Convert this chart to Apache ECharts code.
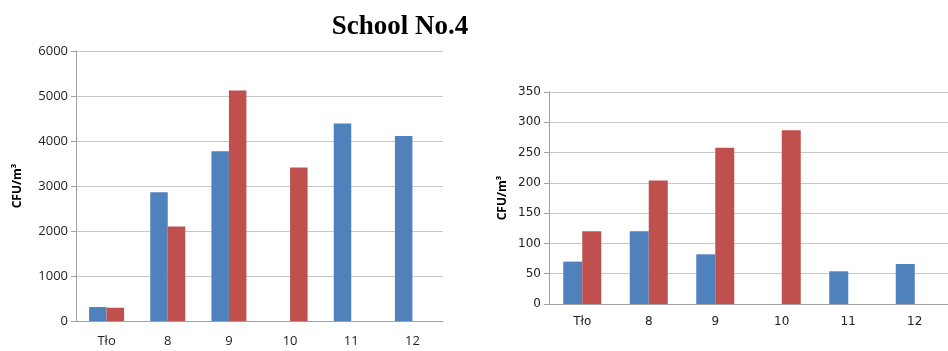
<!DOCTYPE html>
<html><head><meta charset="utf-8">
<script src="https://cdn.jsdelivr.net/npm/echarts@6/dist/echarts.min.js"></script>
<style>html,body{margin:0;padding:0;background:#fff}#c{width:948px;height:351px}</style>
</head><body><div id="c"></div>
<script>
const categories = ['Tło', '8', '9', '10', '11', '12'];
const leftBlue = [310, 2860, 3770, null, 4390, 4110];
const leftRed = [295, 2100, 5120, 3410, null, null];
const rightBlue = [70, 120, 82, null, 54, 66];
const rightRed = [120, 204, 258, 287, null, null];
const leftTicks = [0, 6000, 1000];
const rightTicks = [0, 350, 50];
const titleText = 'School No.4';
const yName = 'CFU/m³';

const BLUE = '#4F81BD', RED = '#C0504D';
const chart = echarts.init(document.getElementById('c'), null, {renderer: 'canvas'});
function yAx(gi, t, font, size, nameGap) {
  return {
    gridIndex: gi, type: 'value', min: t[0], max: t[1], interval: t[2],
    name: yName, nameLocation: 'middle', nameGap: nameGap,
    nameTextStyle: {fontFamily: 'Open Sans', fontWeight: 'bold', fontSize: 12, color: '#000'},
    axisLine: {show: true, lineStyle: {color: '#a0a0a0', width: 1}},
    axisTick: {show: true, length: 5, lineStyle: {color: '#a0a0a0'}},
    axisLabel: {fontFamily: font, fontSize: size, color: '#222', margin: 8, formatter: v => String(v)},
    splitLine: {show: true, lineStyle: {color: '#c8c8c8', width: 1}}
  };
}
function xAx(gi, font, size, margin) {
  return {
    gridIndex: gi, type: 'category', data: categories,
    axisLine: {show: true, lineStyle: {color: '#a0a0a0', width: 1}},
    axisTick: {show: false},
    axisLabel: {fontFamily: font, fontSize: size, color: '#222', margin: margin}
  };
}
chart.setOption({
  animation: false,
  backgroundColor: '#fff',
  title: {text: titleText, left: 395, top: 9, textAlign: 'center',
    textStyle: {fontFamily: 'Liberation Serif', fontWeight: 'bold', fontSize: 27, color: '#000'}},
  grid: [
    {left: 76, right: 505, top: 51, bottom: 30},
    {left: 549, width: 404, top: 92, bottom: 47}
  ],
  xAxis: [xAx(0, 'Open Sans', 13, 14), xAx(1, 'DejaVu Sans', 12, 12)],
  yAxis: [yAx(0, leftTicks, 'Open Sans', 13, 52), yAx(1, rightTicks, 'DejaVu Sans', 12, 40)],
  series: [
    {type: 'bar', xAxisIndex: 0, yAxisIndex: 0, data: leftBlue, barWidth: 17.5, barGap: '0%', itemStyle: {color: BLUE}},
    {type: 'bar', xAxisIndex: 0, yAxisIndex: 0, data: leftRed, barWidth: 17.5, barGap: '0%', itemStyle: {color: RED}},
    {type: 'bar', xAxisIndex: 1, yAxisIndex: 1, data: rightBlue, barWidth: 19, barGap: '0%', itemStyle: {color: BLUE}},
    {type: 'bar', xAxisIndex: 1, yAxisIndex: 1, data: rightRed, barWidth: 19, barGap: '0%', itemStyle: {color: RED}}
  ]
});
</script></body></html>
